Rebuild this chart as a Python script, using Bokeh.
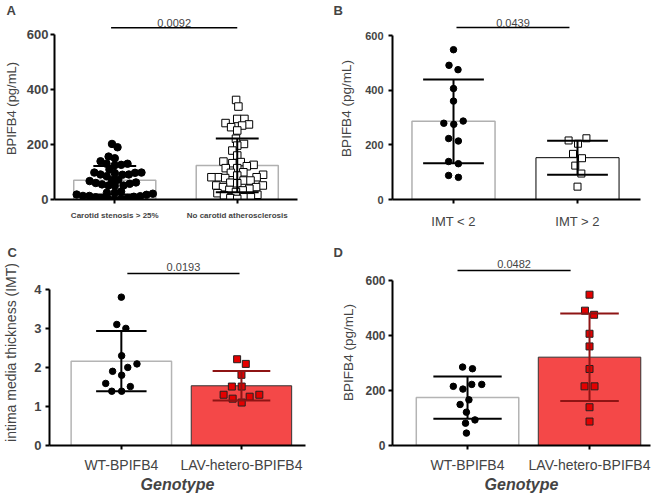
import math
from bokeh.plotting import figure
from bokeh.layouts import column, row
from bokeh.models import Range1d, FixedTicker, Label, Title
from bokeh.embed import file_html
from bokeh.resources import INLINE

# ---------------- data ----------------
A_labels = ["Carotid stenosis > 25%", "No carotid atherosclerosis"]
A_stenosis = [202, 190, 156, 150, 139, 130, 130, 126, 125, 109, 98, 98, 97, 96, 91, 91, 90, 85,
              72, 71, 67, 62, 60, 57, 55, 51, 51, 50, 29, 25, 25, 21, 18, 17, 13, 13, 12, 10, 8,
              5, 5, 3, 2, 0]
A_none = [362, 338, 293, 293, 278, 273, 269, 263, 251, 221, 202, 196, 178, 160, 138, 136, 132,
          126, 121, 114, 114, 99, 97, 90, 87, 81, 81, 81, 78, 69, 69, 61, 59, 51, 51, 45, 45, 39,
          35, 33, 27, 23, 17, 15, 8, 8, 5, 2]
A_mean = [70, 124]
A_sd = [52, 98]
A_p = "0.0092"

B_labels = ["IMT < 2", "IMT > 2"]
B_lt2 = [548, 491, 475, 406, 360, 287, 279, 275, 223, 214, 139, 131, 88, 81]
B_gt2 = [224, 216, 204, 167, 151, 124, 95, 47]
B_mean = [286, 153]
B_sd = [153, 62]
B_p = "0.0439"

C_labels = ["WT-BPIFB4", "LAV-hetero-BPIFB4"]
C_wt = [3.80, 3.10, 3.00, 2.30, 2.09, 2.00, 1.90, 1.80, 1.59, 1.51, 1.39, 1.39]
C_lav = [2.21, 2.09, 1.81, 1.51, 1.51, 1.30, 1.30, 1.25, 1.20, 1.10]
C_mean = [2.16, 1.53]
C_sd = [0.77, 0.38]
C_p = "0.0193"

D_labels = ["WT-BPIFB4", "LAV-hetero-BPIFB4"]
D_wt = [285, 279, 222, 222, 215, 205, 166, 149, 121, 93, 81, 45]
D_lav = [548, 490, 475, 406, 360, 278, 215, 215, 139, 87]
D_mean = [174, 321]
D_sd = [77, 159]
D_p = "0.0482"

FONT = "Liberation Sans"
RED_BAR = "#f44848"
RED_PT = "#e40000"
DARK_RED = "#8e1414"
TOP = 17  # space above each frame (holds the panel letter)


def swarm(vals, ppu, d):
    """Beeswarm offsets (pixels); ppu = pixels per value unit, d = spacing px."""
    idx = sorted(range(len(vals)), key=lambda i: vals[i])
    placed = []
    xs = [0.0] * len(vals)
    for i in idx:
        y = vals[i] * ppu
        cands = [0.0]
        for (px, py) in placed:
            dy = abs(py - y)
            if dy < d:
                dx = math.sqrt(d * d - dy * dy)
                cands += [px + dx, px - dx]
        cands.sort(key=lambda c: (round(abs(c), 6), c))
        chosen = 0.0
        for c in cands:
            if all((c - px) ** 2 + (y - py) ** 2 >= d * d - 1e-6 for px, py in placed):
                chosen = c
                break
        placed.append((chosen, y))
        xs[i] = chosen
    clusters, cur = [], [idx[0]]
    for a, b in zip(idx, idx[1:]):
        if (vals[b] - vals[a]) * ppu < d:
            cur.append(b)
        else:
            clusters.append(cur)
            cur = [b]
    clusters.append(cur)
    for cl in clusters:
        m = (min(xs[i] for i in cl) + max(xs[i] for i in cl)) / 2
        for i in cl:
            xs[i] -= m
    return xs


class Panel:
    def __init__(self, w, h, fl, fr, fb, x0, pxu, yval, ypix, y_bound, yticks, tick_size,
                 tick_standoff, ylabel, ylabel_size, ylabel_standoff, xlabels, xlabel_size,
                 xlabel_style, xlabel_standoff, letter, letter_x, xtitle=None):
        # fl, fr: frame left/right (px in figure); fb: frame bottom (px from figure top)
        # yval is drawn at ypix (px from figure top); frame top = TOP
        fh = fb - TOP
        self.ppu = (fb - ypix) / yval
        y_top = fh / self.ppu
        self.pxu = pxu
        x1 = x0 + (fr - fl) / pxu
        p = figure(width=w, height=h, x_range=Range1d(x0, x1), y_range=Range1d(0, y_top),
                   output_backend="svg", toolbar_location=None,
                   min_border_left=fl, min_border_right=w - fr, min_border_top=TOP,
                   min_border_bottom=h - fb)
        p.outline_line_color = None
        p.grid.visible = False
        p.title = Title(text=letter, align="left", offset=letter_x - fl, standoff=0,
                        text_font=FONT, text_font_size="13px", text_font_style="bold")
        ya = p.yaxis[0]
        ya.bounds = (0, y_bound)
        ya.ticker = FixedTicker(ticks=yticks)
        ya.axis_line_width = 2
        ya.major_tick_line_width = 2
        ya.major_tick_out = 4
        ya.major_tick_in = 0
        ya.minor_tick_line_color = None
        ya.major_label_text_font = FONT
        ya.major_label_text_font_style = "bold"
        ya.major_label_text_font_size = tick_size
        ya.major_label_standoff = tick_standoff
        ya.axis_label = ylabel
        ya.axis_label_text_font = FONT
        ya.axis_label_text_font_style = "normal"
        ya.axis_label_text_font_size = ylabel_size
        ya.axis_label_standoff = ylabel_standoff
        xa = p.xaxis[0]
        xa.ticker = FixedTicker(ticks=[1, 2])
        xa.major_label_overrides = {1: xlabels[0], 2: xlabels[1]}
        xa.axis_line_width = 2
        xa.major_tick_line_width = 2
        xa.major_tick_out = 4
        xa.major_tick_in = 0
        xa.minor_tick_line_color = None
        xa.major_label_text_font = FONT
        xa.major_label_text_font_size = xlabel_size
        xa.major_label_text_font_style = xlabel_style
        xa.major_label_standoff = xlabel_standoff
        if xtitle:
            xa.axis_label = xtitle
            xa.axis_label_text_font = FONT
            xa.axis_label_text_font_style = "bold italic"
            xa.axis_label_text_font_size = "16px"
            xa.axis_label_standoff = 0
        self.p = p

    def bars(self, means, width, fills, lines, lws):
        for c, m, f, l, lw in zip([1, 2], means, fills, lines, lws):
            self.p.vbar(x=[c], top=[m], width=width, fill_color=f, line_color=l, line_width=lw)

    def group(self, cat, vals, d, marker, size, fill, line):
        offs = swarm(vals, self.ppu, d)
        xs = [cat + o / self.pxu for o in offs]
        self.p.scatter(xs, vals, marker=marker, size=size, fill_color=fill, line_color=line,
                       line_width=1)

    def err(self, cat, mean, sd, cap, color):
        p = self.p
        p.segment([cat], [mean - sd], [cat], [mean + sd], line_color=color, line_width=2)
        p.segment([cat - cap / 2, cat - cap / 2], [mean - sd, mean + sd],
                  [cat + cap / 2, cat + cap / 2], [mean - sd, mean + sd],
                  line_color=color, line_width=2)

    def sig(self, xa, xb, y_line, y_text, text):
        self.p.segment([xa], [y_line], [xb], [y_line], line_color="black", line_width=1.5)
        self.p.add_layout(Label(x=(xa + xb) / 2, y=y_text, text=text, text_font=FONT,
                                text_font_size="11px", text_align="center",
                                text_baseline="middle"))


# ---------------- Panel A ----------------
A = Panel(330, 242, 51, 297, 199, 0.508, 124, 600, 34, 600, [0, 200, 400, 600], "13px", 2,
          "BPIFB4 (pg/mL)", "13px", 5, A_labels, "8px", "bold", 7, "A", 3)
A.bars(A_mean, 0.67, ["white", "white"], ["#b0b0b0", "#b0b0b0"], [1.5, 1.5])
A.group(1, A_stenosis, 6.5, "circle", 7.5, "black", "black")
A.group(2, A_none, 7.0, "square", 7.5, "white", "black")
for c, m, s in zip([1, 2], A_mean, A_sd):
    A.err(c, m, s, 0.35, "black")
A.sig(0.97, 2.0, 625, 643, A_p)

# ---------------- Panel B ----------------
B = Panel(325, 242, 62, 310, 199, 0.508, 124, 600, 35, 600, [0, 200, 400, 600], "11px", 5,
          "BPIFB4 (pg/mL)", "13.5px", 8, B_labels, "13px", "normal", 10, "B", 3)
B.bars(B_mean, 0.67, ["white", "white"], ["#b0b0b0", "black"], [1.5, 1])
B.group(1, B_lt2, 10, "circle", 6.5, "black", "black")
B.group(2, B_gt2, 10, "square", 7, "white", "black")
for c, m, s in zip([1, 2], B_mean, B_sd):
    B.err(c, m, s, 0.49, "black")
B.sig(1.024, 1.935, 629, 647, B_p)

# ---------------- Panel C ----------------
C = Panel(330, 253, 45, 305, 204, 0.402, 122, 4, 47, 4, [0, 1, 2, 3, 4], "13px", 4,
          "intima media thickness (IMT)", "14px", 12, C_labels, "14px", "normal", 7, "C", 3,
          xtitle="Genotype")
C.bars(C_mean, 0.836, ["white", RED_BAR], ["#b4b4b4", "#333333"], [1.5, 1])
C.group(1, C_wt, 10, "circle", 6.5, "black", "black")
C.group(2, C_lav, 10, "square", 7, RED_PT, "#222222")
C.err(1, C_mean[0], C_sd[0], 0.42, "black")
C.err(2, C_mean[1], C_sd[1], 0.48, DARK_RED)
C.sig(1.05, 1.984, 4.405, 4.58, C_p)

# ---------------- Panel D ----------------
D = Panel(325, 253, 62, 320, 204, 0.385, 122, 600, 38, 600, [0, 200, 400, 600], "12px", 3,
          "BPIFB4 (pg/mL)", "13.5px", 6, D_labels, "14px", "normal", 7, "D", 3,
          xtitle="Genotype")
D.bars(D_mean, 0.84, ["white", RED_BAR], ["#b4b4b4", "#333333"], [1.5, 1])
D.group(1, D_wt, 10, "circle", 6.5, "black", "black")
D.group(2, D_lav, 10, "square", 7, RED_PT, "#222222")
D.err(1, D_mean[0], D_sd[0], 0.56, "black")
D.err(2, D_mean[1], D_sd[1], 0.48, DARK_RED)
D.sig(0.918, 1.845, 636, 660, D_p)

layout = column(row(A.p, B.p), row(C.p, D.p))
open("out.html", "w").write(file_html(layout, INLINE))
